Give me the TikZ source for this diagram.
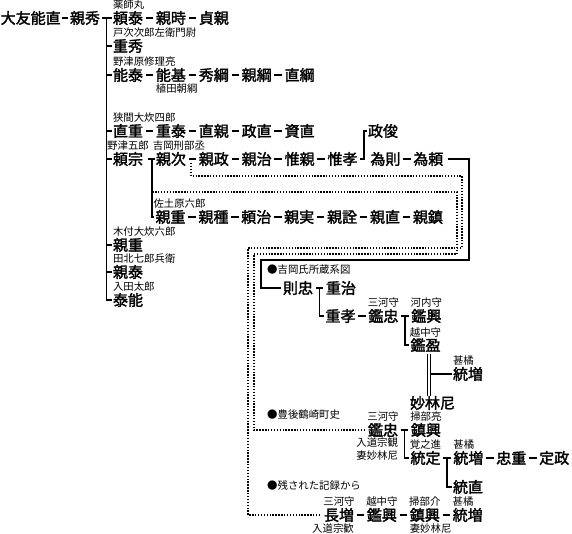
\documentclass[tikz,border=0pt]{standalone}
\usepackage{fontspec}
\setmainfont{Noto Sans CJK JP}
\newfontfamily\namefont{Noto Sans CJK JP}[FakeBold=2]
\usetikzlibrary{positioning, calc}

\begin{document}
\begin{tikzpicture}[x=1pt, y=-1pt, node distance=12.5pt,
    person/.style={inner sep=0pt, font=\namefont\fontsize{15pt}{15pt}\selectfont},
    remark/.style={inner sep=0pt, font=\fontsize{10.4pt}{12.5pt}\selectfont},
    ln/.style={line width=1.8pt},
    link/.style={ln, shorten <=2.5pt, shorten >=2.5pt},
    dotline/.style={line width=1.4pt, dash pattern=on 1.4pt off 1.5pt},
    dbl/.style={double, double distance=2.2pt, line width=1pt}]
  \useasboundingbox (0,0) rectangle (572,534);

  \node[person, anchor=west] (yoshinao) at (0.5,18) {大友能直};
  \node[person] (chikahide) at (85,18) {親秀};
  \node[person] (yoriyasu) at (128,18) {頼泰};
  \node[person, right=of yoriyasu] (chikatoki) {親時};
  \node[person, right=of chikatoki] (sadachika) {貞親};
  \node[person] (shigehide) at (128,46) {重秀};
  \node[person] (yoshiyasu) at (128,75) {能泰};
  \node[person, right=of yoshiyasu] (yoshimoto) {能基};
  \node[person, right=of yoshimoto] (hidetsuna) {秀綱};
  \node[person, right=of hidetsuna] (chikatsuna) {親綱};
  \node[person, right=of chikatsuna] (naotsuna) {直綱};
  \node[person] (naoshige) at (128,131) {直重};
  \node[person, right=of naoshige] (shigeyasu) {重泰};
  \node[person, right=of shigeyasu] (naochika) {直親};
  \node[person, right=of naochika] (masanao) {政直};
  \node[person, right=of masanao] (sukenao) {資直};
  \node[person] (masatoshi) at (383,131) {政俊};
  \node[person] (yorimune) at (128,159) {頼宗};
  \node[person, right=of yorimune] (chikatsugu) {親次};
  \node[person, right=of chikatsugu] (chikamasa) {親政};
  \node[person, right=of chikamasa] (chikaharu) {親治};
  \node[person, right=of chikaharu] (korechika) {惟親};
  \node[person, right=of korechika] (koretaka) {惟孝};
  \node[person, right=of koretaka] (tamenori) {為則};
  \node[person, right=of tamenori] (tameyori) {為頼};
  \node[person] (chikashige) at (170.5,217) {親重};
  \node[person, right=of chikashige] (chikatane) {親種};
  \node[person, right=of chikatane] (yoriharu) {頼治};
  \node[person, right=of yoriharu] (chikazane) {親実};
  \node[person, right=of chikazane] (chikaaki) {親詮};
  \node[person, right=of chikaaki] (chikanao) {親直};
  \node[person, right=of chikanao] (chikashizu) {親鎮};
  \node[person] (kitsukichika) at (128,245) {親重};
  \node[person] (takitachika) at (128,272) {親泰};
  \node[person] (nyutayasu) at (128,300) {泰能};

  \node[remark, above right=1pt and 0pt of yoriyasu.north west] (yakushimaru) {薬師丸};
  \node[remark, above right=1pt and 0pt of shigehide.north west] (bekki) {戸次次郎左衛門尉};
  \node[remark, above right=1pt and 0pt of yoshiyasu.north west] (nozuharu) {野津原修理亮};
  \node[remark, below right=1pt and 0pt of yoshimoto.south west] (uedatomotsuna) {植田朝綱};
  \node[remark, above right=1pt and 0pt of naoshige.north west] (hasama) {狭間大炊四郎};
  \node[remark, above=1pt of yorimune] (nozugoro) {野津五郎};
  \node[remark, above right=1pt and -3pt of chikatsugu.north west] (yoshioka) {吉岡刑部丞};
  \node[remark, above right=1pt and -2pt of chikashige.north west] (sadowara) {佐土原六郎};
  \node[remark, above right=1pt and 0pt of kitsukichika.north west] (kitsuki) {木付大炊六郎};
  \node[remark, above right=1pt and 0pt of takitachika.north west] (takita) {田北七郎兵衛};
  \node[remark, above right=1pt and 0pt of nyutayasu.north west] (nyuta) {入田太郎};

  \node[remark, anchor=west] (source1) at (267,270) {●吉岡氏所蔵系図};
  \node[person] (noritada) at (298,288) {則忠};
  \node[person, right=of noritada] (shigeharu) {重治};
  \node[person] (shigetaka) at (340.5,316) {重孝};
  \node[person, right=of shigetaka] (akitada) {鑑忠};
  \node[person, right=of akitada] (akioki) {鑑興};
  \node[person] (akimitsu) at (425.5,345) {鑑盈};
  \node[person] (munemasu) at (468,374) {統増};
  \node[person] (myorinni) at (432.5,403) {妙林尼};
  \node[remark, above=1pt of akitada] (mikawa1) {三河守};
  \node[remark, above=1pt of akioki] (kawachi) {河内守};
  \node[remark, above=1pt of akimitsu] (etchu1) {越中守};
  \node[remark, above right=1pt and 0pt of munemasu.north west] (jinkitsu1) {甚橘};

  \node[remark, anchor=west] (source2) at (267,415) {●豊後鶴崎町史};
  \node[person] (akitada2) at (383,430) {鑑忠};
  \node[person, right=of akitada2] (shigeoki) {鎮興};
  \node[person] (munesada) at (425.5,458) {統定};
  \node[person, right=of munesada] (munemasu2) {統増};
  \node[person, right=of munemasu2] (tadashige) {忠重};
  \node[person, right=of tadashige] (sadamasa) {定政};
  \node[person] (munenao) at (468,487) {統直};
  \node[remark, above=1pt of akitada2] (mikawa2) {三河守};
  \node[remark, above=1pt of shigeoki] (kamonnosuke1) {掃部亮};
  \node[remark, below left=1pt and 0pt of akitada2.south east, align=right] (sokan) {入道宗観\\妻妙林尼};
  \node[remark, above=1pt of munesada] (kakunoshin) {覚之進};
  \node[remark, above right=1pt and 0pt of munemasu2.north west] (jinkitsu2) {甚橘};

  \node[remark, anchor=west] (source3) at (267,485) {●残された記録から};
  \node[person] (nagamasu) at (339,515) {長増};
  \node[person, right=of nagamasu] (akioki2) {鑑興};
  \node[person, right=of akioki2] (shigeoki2) {鎮興};
  \node[person, right=of shigeoki2] (munemasu3) {統増};
  \node[remark, above=1pt of nagamasu] (mikawa3) {三河守};
  \node[remark, above=1pt of akioki2] (etchu2) {越中守};
  \node[remark, above=1pt of shigeoki2] (kamonnosuke2) {掃部介};
  \node[remark, above right=1pt and 0pt of munemasu3.north west] (jinkitsu3) {甚橘};
  \node[remark, below=1pt of nagamasu, xshift=-6pt] (sokan2) {入道宗歓};
  \node[remark, below right=1pt and 0pt of shigeoki2.south west] (tsuma) {妻妙林尼};

  \draw[link, shorten <=1.5pt, shorten >=1.5pt] (yoshinao) -- (chikahide);
  \draw[ln] ([xshift=2pt]chikahide.east) -- ([xshift=-1pt]yoriyasu.west);
  \coordinate (trunk) at ($(chikahide.east)!.5!(yoriyasu.west)$);
  \draw[ln] (trunk) |- ([xshift=-1pt]nyutayasu.west);
  \draw[ln] (trunk |- shigehide.west) -- ([xshift=-1pt]shigehide.west);
  \draw[ln] (trunk |- yoshiyasu.west) -- ([xshift=-1pt]yoshiyasu.west);
  \draw[ln] (trunk |- naoshige.west) -- ([xshift=-1pt]naoshige.west);
  \draw[ln] (trunk |- yorimune.west) -- ([xshift=-1pt]yorimune.west);
  \draw[ln] (trunk |- kitsukichika.west) -- ([xshift=-1pt]kitsukichika.west);
  \draw[ln] (trunk |- takitachika.west) -- ([xshift=-1pt]takitachika.west);

  \draw[link] (yoriyasu) -- (chikatoki);
  \draw[link] (chikatoki) -- (sadachika);
  \draw[link] (yoshiyasu) -- (yoshimoto);
  \draw[link] (yoshimoto) -- (hidetsuna);
  \draw[link] (hidetsuna) -- (chikatsuna);
  \draw[link] (chikatsuna) -- (naotsuna);
  \draw[link] (naoshige) -- (shigeyasu);
  \draw[link] (shigeyasu) -- (naochika);
  \draw[link] (naochika) -- (masanao);
  \draw[link] (masanao) -- (sukenao);

  \coordinate (yorimunebar) at ([xshift=-3.5pt]chikatsugu.west);
  \draw[ln] ([xshift=-4.5pt]yorimunebar) -- ([xshift=-1pt]chikatsugu.west);
  \draw[ln] (yorimunebar) |- ([xshift=-1pt]chikashige.west);
  \draw[link] (chikatsugu) -- (chikamasa);
  \draw[link] (chikamasa) -- (chikaharu);
  \draw[link] (chikaharu) -- (korechika);
  \draw[link] (korechika) -- (koretaka);
  \coordinate (koretakabar) at ($(koretaka.east)!.5!(tamenori.west)$);
  \draw[ln] ([xshift=2.5pt]koretaka.east) -| (koretakabar |- masatoshi.west) -- ([xshift=-1pt]masatoshi.west);
  \draw[link] (tamenori) -- (tameyori);
  \draw[link] (chikashige) -- (chikatane);
  \draw[link] (chikatane) -- (yoriharu);
  \draw[link] (yoriharu) -- (chikazane);
  \draw[link] (chikazane) -- (chikaaki);
  \draw[link] (chikaaki) -- (chikanao);
  \draw[link] (chikanao) -- (chikashizu);

  \draw[ln] ([xshift=4pt]tameyori.east) -| (469,260) -- (261,260) |- ([xshift=-2pt]noritada.west);
  \draw[dotline] ([xshift=5pt,yshift=-4pt]chikatsugu.east) |- (462,176) -- (462,248) -- (248,248) |- ([xshift=-3pt]nagamasu.west);
  \draw[dotline] ([yshift=-33pt]yorimunebar) -- (457,192) -- (457,254) -- (254,254) |- ([xshift=-3pt]akitada2.west);

  \draw[link] (noritada) -- (shigeharu);
  \draw[ln] ($(noritada.east)!.5!(shigeharu.west)$) |- ([xshift=-1pt]shigetaka.west);
  \draw[link] (shigetaka) -- (akitada);
  \draw[link] (akitada) -- (akioki);
  \draw[ln] ($(akitada.east)!.5!(akioki.west)$) |- ([xshift=-1pt]akimitsu.west);
  \coordinate (marriage) at ([xshift=3.5pt]akimitsu.south);
  \draw[dbl] ([yshift=-2pt]marriage) -- (marriage |- myorinni.north);
  \draw[ln] (marriage |- munemasu.west) ++(2.1pt,0) -- ([xshift=-1pt]munemasu.west);

  \draw[link] (akitada2) -- (shigeoki);
  \draw[ln] ($(akitada2.east)!.5!(shigeoki.west)$) |- ([xshift=-1pt]munesada.west);
  \draw[link] (munesada) -- (munemasu2);
  \draw[ln] ($(munesada.east)!.5!(munemasu2.west)$) |- ([xshift=-1pt]munenao.west);
  \draw[link] (munemasu2) -- (tadashige);
  \draw[link] (tadashige) -- (sadamasa);

  \draw[link] (nagamasu) -- (akioki2);
  \draw[link] (akioki2) -- (shigeoki2);
  \draw[link] (shigeoki2) -- (munemasu3);
\end{tikzpicture}
\end{document}
